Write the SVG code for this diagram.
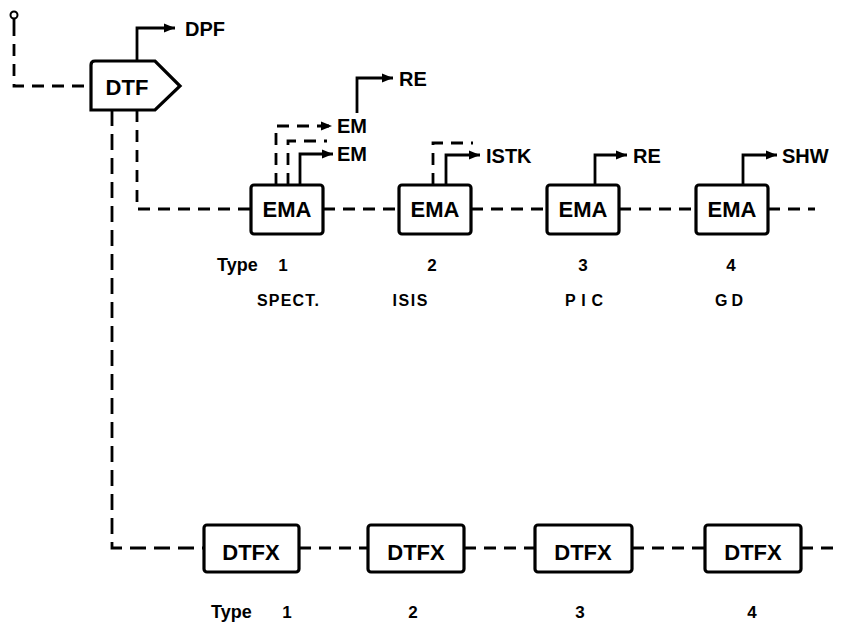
<svg xmlns="http://www.w3.org/2000/svg" width="842" height="628" viewBox="0 0 842 628">
<style>
.box{fill:#fff;stroke:#000;stroke-width:3.2;}
.dash{fill:none;stroke:#000;stroke-width:2.8;stroke-dasharray:12 8;}
.vdash{fill:none;stroke:#000;stroke-width:2.8;stroke-dasharray:16 8;}
.solid{fill:none;stroke:#000;stroke-width:2.8;}
.t{font-family:"Liberation Sans",Arial,sans-serif;fill:#000;font-weight:bold;}
.nt{font-size:22px;text-anchor:middle;}
.lbl{font-size:20px;}
.sm{font-size:18px;}
.num{font-size:17px;text-anchor:middle;}
.sub{font-size:16px;text-anchor:middle;}
</style>
<defs>
<marker id="arr" markerUnits="userSpaceOnUse" markerWidth="12" markerHeight="10" refX="11" refY="5" orient="auto">
<path d="M0,0.5 L11,5 L0,9.5 z" fill="#000"/>
</marker>
</defs>
<rect width="842" height="628" fill="#fff"/>
<g id="connectors">
<circle cx="14" cy="15" r="3.5" fill="#fff" stroke="#000" stroke-width="2"/>
<path class="solid" d="M14,18.5 V24"/>
<path class="dash" d="M14,24 V86 H91"/>
<path class="solid" d="M137,61 V28 H175" marker-end="url(#arr)"/>
<path class="dash" d="M137,110 V209 H251"/>
<path class="vdash" d="M112,110 V548 H204"/>
<path class="dash" d="M323,209 H399 M471,209 H547 M619,209 H696 M768,209 H815"/>
<path class="dash" d="M299,548 H368 M464,548 H535 M632,548 H705 M801,548 H833"/>
<path class="dash" d="M276,185 V126 H332" marker-end="url(#arr)"/>
<path class="dash" d="M288,185 V141 H327"/>
<path class="solid" d="M300,185 V154 H333" marker-end="url(#arr)"/>
<path class="solid" d="M357,113 V78 H393" marker-end="url(#arr)"/>
<path class="dash" d="M433,185 V143 H473"/>
<path class="solid" d="M446,185 V155 H480" marker-end="url(#arr)"/>
<path class="solid" d="M595,185 V155 H627" marker-end="url(#arr)"/>
<path class="solid" d="M743,185 V155 H777" marker-end="url(#arr)"/>
</g>
<g id="DTF">
<path class="box" d="M95,61 H155 L180,86 L155,110 H91 V65 Q91,61 95,61 z"/>
<text class="t nt" x="127" y="95" font-size="23">DTF</text>
</g>
<g id="DPF"><text class="t lbl" x="185" y="36">DPF</text></g>
<g id="EMA1">
<rect class="box" x="251" y="185" width="72" height="49" rx="3"/>
<text class="t nt" x="287" y="217">EMA</text>
</g>
<g id="EMA2">
<rect class="box" x="399" y="185" width="72" height="49" rx="3"/>
<text class="t nt" x="435" y="217">EMA</text>
</g>
<g id="EMA3">
<rect class="box" x="547" y="185" width="72" height="49" rx="3"/>
<text class="t nt" x="583" y="217">EMA</text>
</g>
<g id="EMA4">
<rect class="box" x="696" y="185" width="72" height="49" rx="3"/>
<text class="t nt" x="732" y="217">EMA</text>
</g>
<g id="outputs">
<text class="t lbl" x="399" y="86">RE</text>
<text class="t lbl" x="337" y="133" font-size="21">EM</text>
<text class="t lbl" x="337" y="161" font-size="21">EM</text>
<text class="t lbl" x="486" y="163">ISTK</text>
<text class="t lbl" x="633" y="163">RE</text>
<text class="t lbl" x="782" y="163">SHW</text>
</g>
<g id="DTFX1">
<rect class="box" x="204" y="525" width="95" height="47" rx="3"/>
<text class="t nt" x="251" y="560">DTFX</text>
</g>
<g id="DTFX2">
<rect class="box" x="368" y="525" width="96" height="47" rx="3"/>
<text class="t nt" x="416" y="560">DTFX</text>
</g>
<g id="DTFX3">
<rect class="box" x="535" y="525" width="97" height="47" rx="3"/>
<text class="t nt" x="583" y="560">DTFX</text>
</g>
<g id="DTFX4">
<rect class="box" x="705" y="525" width="96" height="47" rx="3"/>
<text class="t nt" x="753" y="560">DTFX</text>
</g>
<g id="labels">
<text class="t sm" x="217" y="271">Type</text>
<text class="t num" x="283" y="271">1</text>
<text class="t num" x="432" y="271">2</text>
<text class="t num" x="583" y="271">3</text>
<text class="t num" x="731" y="271">4</text>
<text class="t sub" x="288" y="306" textLength="62" lengthAdjust="spacing">SPECT.</text>
<text class="t sub" x="410" y="306" textLength="35" lengthAdjust="spacing">ISIS</text>
<text class="t sub" x="584" y="306" textLength="38" lengthAdjust="spacing">PIC</text>
<text class="t sub" x="729" y="306" textLength="28" lengthAdjust="spacing">GD</text>
<text class="t sm" x="211" y="618">Type</text>
<text class="t num" x="287" y="618">1</text>
<text class="t num" x="413" y="618">2</text>
<text class="t num" x="580" y="618">3</text>
<text class="t num" x="752" y="618">4</text>
</g>
</svg>
